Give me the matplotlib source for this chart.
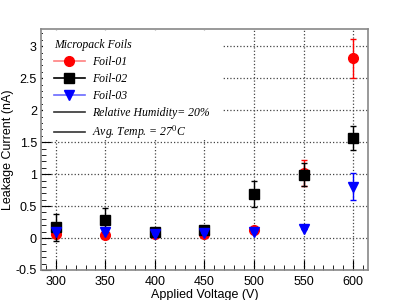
import matplotlib
matplotlib.use('Agg')
import matplotlib.pyplot as plt
from matplotlib.lines import Line2D
from matplotlib.patches import Rectangle
from matplotlib.ticker import MultipleLocator, FormatStrFormatter

plt.rcParams['font.family'] = ['Liberation Sans', 'DejaVu Sans']
plt.rcParams['mathtext.fontset'] = 'stix'

# Datos
voltaje = [300, 350, 400, 450, 500, 550, 600]
foil01 = [0.07, 0.05, 0.06, 0.07, 0.12, 1.02, 2.81]
foil01_err = [0.0, 0.0, 0.0, 0.0, 0.0, 0.20, 0.31]
foil02 = [0.17, 0.28, 0.09, 0.12, 0.69, 0.99, 1.57]
foil02_err = [0.21, 0.19, 0.0, 0.0, 0.20, 0.18, 0.19]
foil03 = [0.09, 0.09, 0.06, 0.08, 0.09, 0.14, 0.80]
foil03_err = [0.0, 0.0, 0.0, 0.0, 0.0, 0.0, 0.21]

fig = plt.figure(figsize=(4.09, 3.0), dpi=100)
ax = fig.add_axes([0.1002, 0.1, 0.7996, 0.8033])

ax.errorbar(voltaje, foil01, yerr=foil01_err, fmt='o', color='red', ms=7,
            elinewidth=1, capsize=2, zorder=3)
ax.errorbar(voltaje, foil02, yerr=foil02_err, fmt='s', color='black', ms=7,
            elinewidth=1, capsize=2, zorder=4)
ax.errorbar(voltaje, foil03, yerr=foil03_err, fmt='v', color='blue', ms=7,
            elinewidth=1, capsize=2, zorder=5)

ax.set_xlim(285, 615)
ax.set_ylim(-0.5, 3.27)
ax.xaxis.set_major_locator(MultipleLocator(50))
ax.xaxis.set_minor_locator(MultipleLocator(10))
ax.yaxis.set_major_locator(MultipleLocator(0.5))
ax.yaxis.set_minor_locator(MultipleLocator(0.1))
ax.yaxis.set_major_formatter(FormatStrFormatter('%g'))
ax.tick_params(which='major', direction='in', length=7, labelsize=9)
ax.tick_params(which='minor', direction='in', length=3.5)
ax.tick_params(axis='x', pad=4)
ax.tick_params(axis='y', pad=3)
ax.grid(True, which='major', linestyle=':', color='#444444', linewidth=0.9)

for s in ax.spines.values():
    s.set_color('#888888')
    s.set_linewidth(1.2)

ax.set_xlabel('Applied Voltage (V)', fontsize=9, labelpad=1)
ax.set_ylabel('Leakage Current (nA)', fontsize=9)
ax.yaxis.set_label_coords(-0.083, 0.5)

# Fondo blanco de la leyenda (tapa la rejilla)
ax.add_patch(Rectangle((0.006, 0.539), 0.548, 0.453, transform=ax.transAxes,
                       facecolor='white', edgecolor='none', zorder=2.5))

# Leyenda
handles = [
    Line2D([], [], color='#ff8080', marker='o', mfc='red', mec='red', ms=7, lw=1.2),
    Line2D([], [], color='black', marker='s', ms=7, lw=1.2),
    Line2D([], [], color='#6a6aff', marker='v', mfc='blue', mec='blue', ms=7, lw=1.2),
    Line2D([], [], color='#333333', lw=1.2),
    Line2D([], [], color='#333333', lw=1.2),
]
labels = ['Foil-01', 'Foil-02', 'Foil-03',
          'Relative Humidity= 20%', r'Avg. Temp. = 27$^{0}$C']
fuente = {'family': 'Liberation Serif', 'style': 'italic', 'size': 8.5}
leg = ax.legend(handles, labels, loc='upper left', bbox_to_anchor=(0.04, 0.957),
                frameon=False, handlelength=2.6, handletextpad=0.6,
                labelspacing=0.42, borderpad=0.0, borderaxespad=0.0,
                title='Micropack Foils', title_fontproperties=fuente,
                alignment='left', prop=fuente)
leg.set_zorder(10)

fig.savefig('out.png', dpi=100)
